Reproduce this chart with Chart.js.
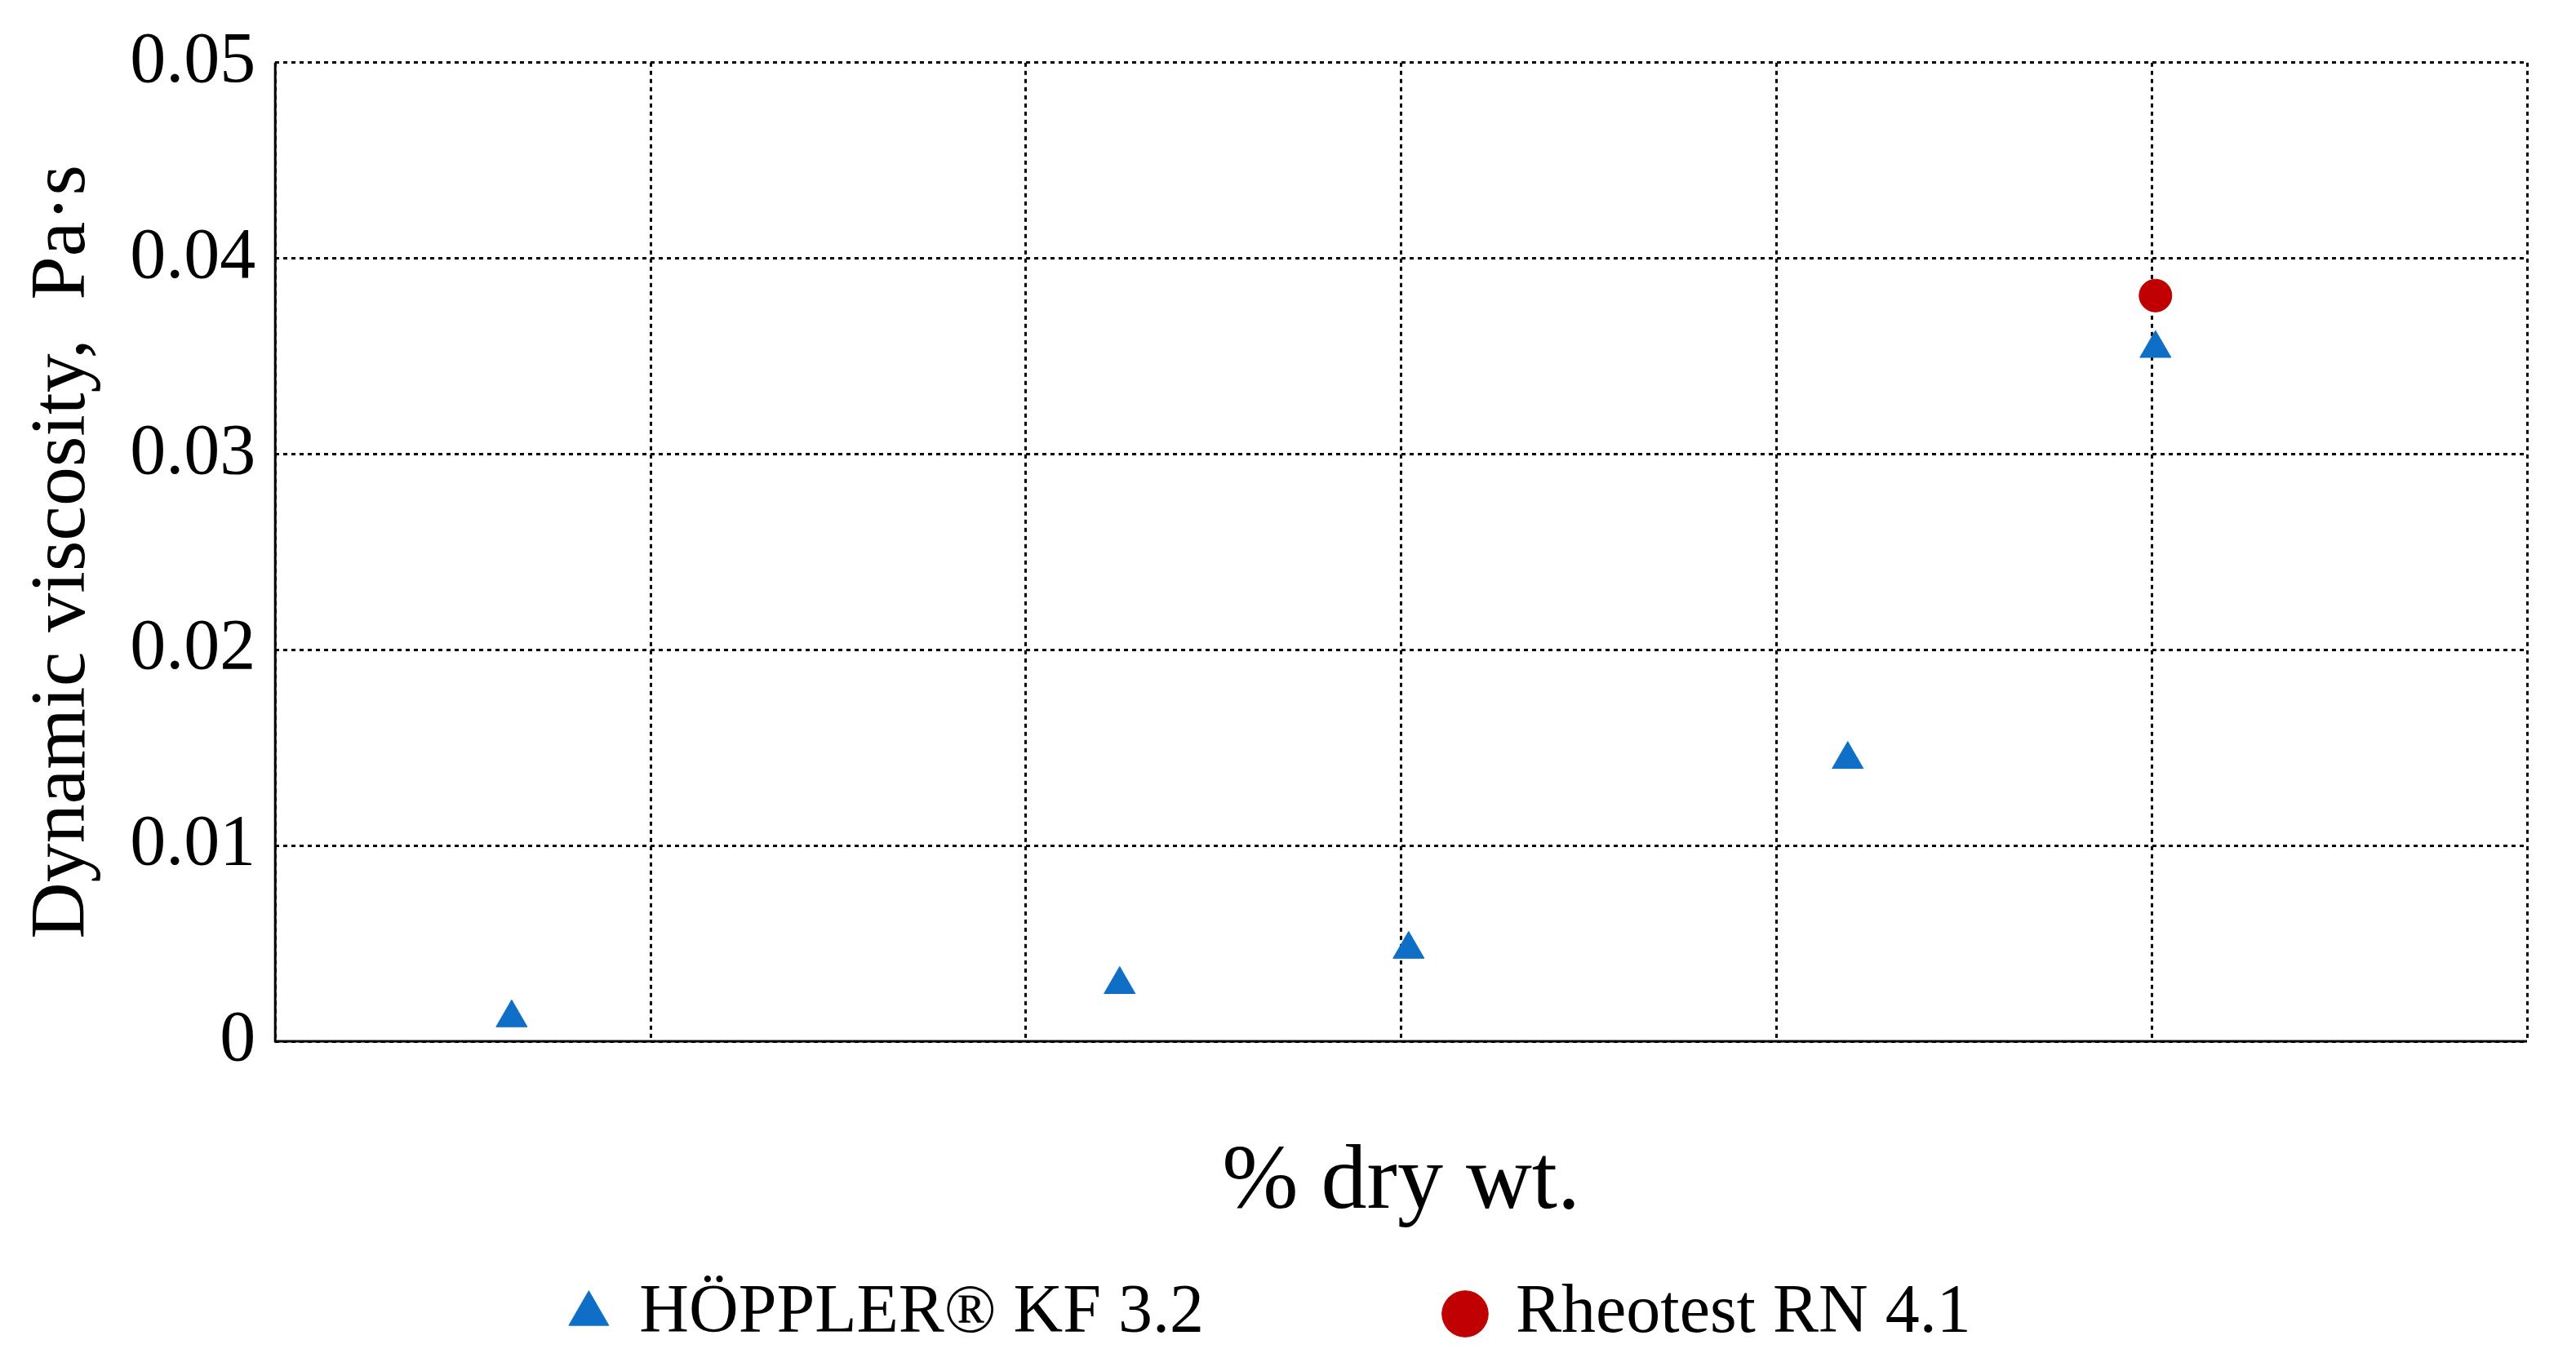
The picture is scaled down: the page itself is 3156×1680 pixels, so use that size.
<!DOCTYPE html>
<html>
<head>
<meta charset="utf-8">
<script src="https://cdn.jsdelivr.net/npm/chart.js@4"></script>
<style>
  html, body { margin: 0; padding: 0; background: #fff; }
  #wrap { width: 3156px; height: 1680px; }
</style>
</head>
<body>
<div id="wrap"><canvas id="chart" width="3156" height="1680"></canvas></div>
<script>
const hopplerX = [16.3, 32.5, 40.2, 51.9, 60.1];
const hopplerY = [0.0012, 0.0029, 0.0047, 0.0144, 0.0354];
const rheoX = [60.1];
const rheoY = [0.0381];

const toPoints = (xs, ys) => xs.map((x, i) => ({ x: x, y: ys[i] }));
const serif = "'Liberation Serif', 'Times New Roman', serif";

Chart.defaults.font.family = serif;
Chart.defaults.color = "#000";

const ctx = document.getElementById("chart").getContext("2d");
new Chart(ctx, {
  type: "scatter",
  data: {
    datasets: [
      {
        label: "HÖPPLER® KF 3.2",
        data: toPoints(hopplerX, hopplerY),
        pointStyle: "triangle",
        pointRadius: 22,
        backgroundColor: "#0f6fc6",
        borderColor: "#0f6fc6",
      },
      {
        label: "Rheotest RN 4.1",
        data: toPoints(rheoX, rheoY),
        pointStyle: "circle",
        pointRadius: 20,
        backgroundColor: "#c00000",
        borderColor: "#c00000",
      },
    ],
  },
  options: {
    responsive: false,
    animation: false,
    layout: { padding: { left: 20, right: 60, top: 56, bottom: 10 } },
    plugins: {
      tooltip: { enabled: false },
      legend: {
        position: "bottom",
        labels: {
          usePointStyle: true,
          boxWidth: 40,
          boxHeight: 40,
          padding: 300,
          font: { size: 84 },
          color: "#000",
        },
      },
    },
    scales: {
      x: {
        min: 10,
        max: 70,
        ticks: { stepSize: 10, font: { size: 88 }, padding: 6 },
        grid: { color: "#000", lineWidth: 3, tickLength: 0 },
        border: { display: false, dash: [5, 5] },
        title: { display: true, text: "% dry wt.", font: { size: 112 }, padding: { top: -10, bottom: -250 } },
      },
      y: {
        min: 0,
        max: 0.05,
        ticks: { stepSize: 0.01, font: { size: 88 }, padding: 24,
          callback: (v) => (v === 0 ? "0" : v.toFixed(2)) },
        grid: { color: "#000", lineWidth: 3, tickLength: 0 },
        border: { display: false, dash: [5, 5] },
        title: { display: true, text: "Dynamic viscosity,  Pa·s", font: { size: 96 }, padding: { top: 0, bottom: 0 } },
      },
    },
  },
  plugins: [{
    id: "frame",
    afterDraw(chart) {
      const a = chart.chartArea, c = chart.ctx;
      c.save();
      c.strokeStyle = "#000";
      c.lineWidth = 3;
      c.beginPath();
      c.moveTo(a.left, a.top); c.lineTo(a.left, a.bottom); c.lineTo(a.right, a.bottom);
      c.stroke();
      c.restore();
    },
  }],
});
</script>
</body>
</html>
